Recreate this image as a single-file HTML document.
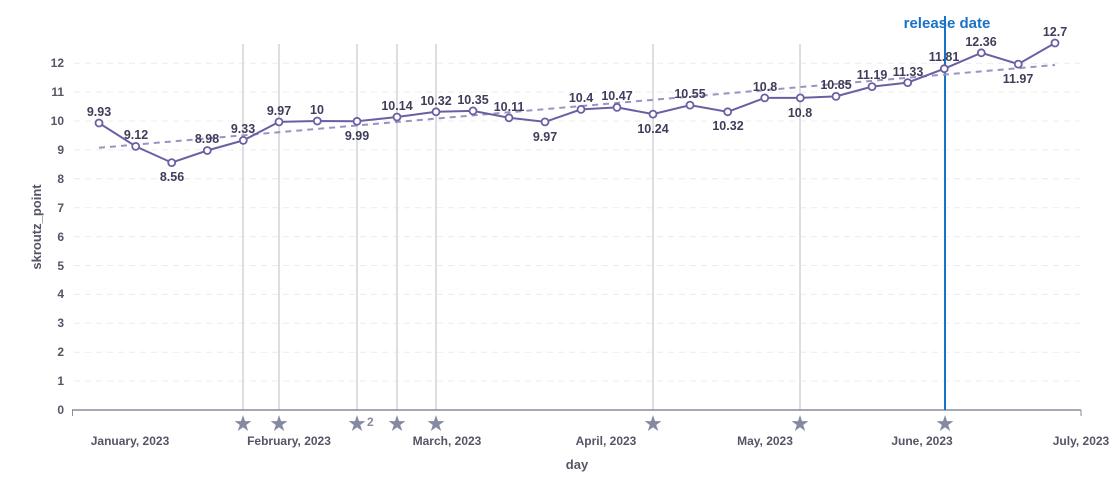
<!DOCTYPE html>
<html><head><meta charset="utf-8"><style>
body{margin:0;background:#fff}
svg text{font-family:"Liberation Sans",sans-serif;font-weight:bold}
</style></head><body>
<svg width="1115" height="479" viewBox="0 0 1115 479" xmlns="http://www.w3.org/2000/svg">
<g stroke="#ececf0" stroke-dasharray="6,5" stroke-width="1">
<line x1="74" x2="1080" y1="381.1" y2="381.1"/><line x1="74" x2="1080" y1="352.2" y2="352.2"/>
<line x1="74" x2="1080" y1="323.3" y2="323.3"/><line x1="74" x2="1080" y1="294.4" y2="294.4"/>
<line x1="74" x2="1080" y1="265.5" y2="265.5"/><line x1="74" x2="1080" y1="236.6" y2="236.6"/>
<line x1="74" x2="1080" y1="207.7" y2="207.7"/><line x1="74" x2="1080" y1="178.8" y2="178.8"/>
<line x1="74" x2="1080" y1="149.9" y2="149.9"/><line x1="74" x2="1080" y1="121" y2="121"/>
<line x1="74" x2="1080" y1="92.1" y2="92.1"/><line x1="74" x2="1080" y1="63.2" y2="63.2"/>
</g>
<g fill="#555566" font-size="12" text-anchor="end">
<text x="64" y="414">0</text><text x="64" y="385">1</text><text x="64" y="356">2</text><text x="64" y="327">3</text><text x="64" y="298">4</text><text x="64" y="270">5</text><text x="64" y="241">6</text><text x="64" y="212">7</text><text x="64" y="183">8</text><text x="64" y="154">9</text><text x="64" y="125">10</text><text x="64" y="96">11</text><text x="64" y="67">12</text>
</g>
<text transform="translate(41,227) rotate(-90)" text-anchor="middle" font-size="13" fill="#555566">skroutz_point</text>
<g stroke="#dedee2" stroke-width="2">
<line x1="243" x2="243" y1="44" y2="410"/><line x1="279" x2="279" y1="44" y2="410"/>
<line x1="357" x2="357" y1="44" y2="410"/><line x1="397" x2="397" y1="44" y2="410"/>
<line x1="436" x2="436" y1="44" y2="410"/><line x1="653" x2="653" y1="44" y2="410"/>
<line x1="800" x2="800" y1="44" y2="410"/>
</g>
<line x1="72" x2="1081" y1="410" y2="410" stroke="#8a8a9e" stroke-width="1.5"/>
<line x1="72.5" x2="72.5" y1="410" y2="416" stroke="#8a8a9e"/>
<line x1="1081" x2="1081" y1="410" y2="416" stroke="#8a8a9e"/>
<line x1="945" x2="945" y1="16" y2="410" stroke="#1a72c8" stroke-width="2"/>
<text x="947" y="28" text-anchor="middle" font-size="15" fill="#1a72c8">release date</text>
<line x1="99" y1="147.8" x2="1055" y2="65" stroke="#9a92c0" stroke-width="2" stroke-dasharray="6,5"/>
<polyline fill="none" stroke="#6a5fa4" stroke-width="2" points="99,123 135.7,146.4 171.7,162.6 207.3,150.5 243.3,140.4 279,121.9 317.3,121 357,121.3 397,117 436,111.8 473,110.9 509,117.8 545,121.9 581,109.4 617,107.4 653,114.1 690,105.1 727.7,111.8 764.7,97.9 800.3,97.9 836,96.4 872,86.6 907.7,82.6 944.3,68.7 981.3,52.8 1018.3,64.1 1055,43"/>
<g fill="#fff" stroke="#6a5fa4" stroke-width="1.8">
<circle cx="99" cy="123" r="3.5"/><circle cx="135.7" cy="146.4" r="3.5"/><circle cx="171.7" cy="162.6" r="3.5"/><circle cx="207.3" cy="150.5" r="3.5"/><circle cx="243.3" cy="140.4" r="3.5"/><circle cx="279" cy="121.9" r="3.5"/><circle cx="317.3" cy="121" r="3.5"/><circle cx="357" cy="121.3" r="3.5"/><circle cx="397" cy="117" r="3.5"/><circle cx="436" cy="111.8" r="3.5"/><circle cx="473" cy="110.9" r="3.5"/><circle cx="509" cy="117.8" r="3.5"/><circle cx="545" cy="121.9" r="3.5"/><circle cx="581" cy="109.4" r="3.5"/><circle cx="617" cy="107.4" r="3.5"/><circle cx="653" cy="114.1" r="3.5"/><circle cx="690" cy="105.1" r="3.5"/><circle cx="727.7" cy="111.8" r="3.5"/><circle cx="764.7" cy="97.9" r="3.5"/><circle cx="800.3" cy="97.9" r="3.5"/><circle cx="836" cy="96.4" r="3.5"/><circle cx="872" cy="86.6" r="3.5"/><circle cx="907.7" cy="82.6" r="3.5"/><circle cx="944.3" cy="68.7" r="3.5"/><circle cx="981.3" cy="52.8" r="3.5"/><circle cx="1018.3" cy="64.1" r="3.5"/><circle cx="1055" cy="43" r="3.5"/>
</g>
<g fill="#3e3e5a" font-size="12.5" text-anchor="middle">
<text x="99" y="116">9.93</text><text x="136" y="139">9.12</text><text x="172" y="181">8.56</text><text x="207" y="143">8.98</text><text x="243" y="133">9.33</text><text x="279" y="115">9.97</text><text x="317" y="114">10</text><text x="357" y="140">9.99</text><text x="397" y="110">10.14</text><text x="436" y="105">10.32</text><text x="473" y="104">10.35</text><text x="509" y="111">10.11</text><text x="545" y="141">9.97</text><text x="581" y="102">10.4</text><text x="617" y="100">10.47</text><text x="653" y="133">10.24</text><text x="690" y="98">10.55</text><text x="728" y="130">10.32</text><text x="765" y="91">10.8</text><text x="800" y="117">10.8</text><text x="836" y="89">10.85</text><text x="872" y="79">11.19</text><text x="908" y="76">11.33</text><text x="944" y="61">11.81</text><text x="981" y="46">12.36</text><text x="1018" y="83">11.97</text><text x="1055" y="36">12.7</text>
</g>
<g fill="#858aa0" font-size="19" text-anchor="middle">
<text x="243" y="430">★</text><text x="279" y="430">★</text><text x="357" y="430">★</text><text x="397" y="430">★</text><text x="436" y="430">★</text><text x="653" y="430">★</text><text x="800" y="430">★</text><text x="945" y="430">★</text>
</g>
<text x="367" y="426" font-size="12" fill="#858aa0">2</text>
<g fill="#555566" font-size="12" text-anchor="middle">
<text x="130" y="445">January, 2023</text><text x="289" y="445">February, 2023</text><text x="447" y="445">March, 2023</text><text x="606" y="445">April, 2023</text><text x="765" y="445">May, 2023</text><text x="922" y="445">June, 2023</text><text x="1081" y="445">July, 2023</text>
</g>
<text x="577" y="469" text-anchor="middle" font-size="13" fill="#555566">day</text>
</svg>
</body></html>
